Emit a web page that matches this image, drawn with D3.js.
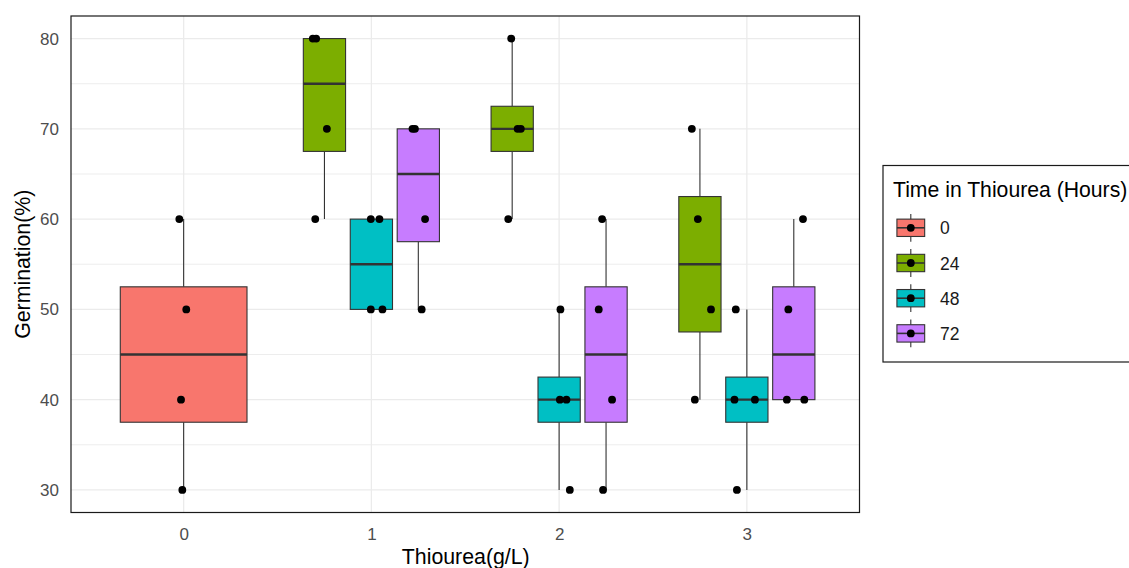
<!DOCTYPE html>
<html>
<head>
<meta charset="utf-8">
<script src="https://cdn.jsdelivr.net/npm/d3@7/dist/d3.min.js"></script>
<style>
  html, body { margin: 0; padding: 0; background: #ffffff; }
  svg { display: block; font-family: "Liberation Sans", Arial, sans-serif; }
</style>
</head>
<body>
<svg id="chart" width="1129" height="568"></svg>
<script>
// Thiourea concentration (g/L) categories
const thioureaLevels = ["0", "1", "2", "3"];
// Soaking time groups (hours)
const hourGroups = ["0", "24", "48", "72"];
const hourColors = ["#F8766D", "#7CAE00", "#00BFC4", "#C77CFF"];
const yTicks = [30, 40, 50, 60, 70, 80];

// Observations: thiourea level, soaking hours, germination %, horizontal jitter (category units)
const obsThiourea = ["0","0","0","0", "1","1","1","1", "1","1","1","1", "1","1","1","1",
                     "2","2","2","2", "2","2","2","2", "2","2","2","2",
                     "3","3","3","3", "3","3","3","3", "3","3","3","3"];
const obsHours    = ["0","0","0","0", "24","24","24","24", "48","48","48","48", "72","72","72","72",
                     "24","24","24","24", "48","48","48","48", "72","72","72","72",
                     "24","24","24","24", "48","48","48","48", "72","72","72","72"];
const obsGermination = [60,50,40,30, 80,80,70,60, 60,60,50,50, 70,70,60,50,
                        80,70,70,60, 50,40,40,30, 60,50,40,30,
                        70,60,50,40, 50,40,40,30, 60,50,40,40];
const obsJitter = [-0.023,0.014,-0.014,-0.007, -0.062,-0.044,0.013,-0.049, -0.003,0.043,-0.003,0.059,
                   -0.031,-0.018,0.036,0.018, -0.005,0.029,0.046,-0.021, 0.007,0.004,0.039,0.057,
                   -0.021,-0.039,0.032,-0.016, -0.043,-0.011,0.059,-0.027, -0.059,-0.066,0.043,-0.053,
                   0.049,-0.029,-0.037,0.056];

const svg = d3.select("#chart");
const panel = { left: 71, right: 859.5, top: 16, bottom: 512.5 };
const boxWidth = 0.75;   // total dodge width per category
const padding = 0.1;     // dodge2 padding between boxes

const x = d3.scaleLinear().domain([-0.6, thioureaLevels.length - 1 + 0.6]).range([panel.left, panel.right]);
const y = d3.scaleLinear().domain([27.5, 82.5]).range([panel.bottom, panel.top]);
const color = d3.scaleOrdinal().domain(hourGroups).range(hourColors);

const obs = obsGermination.map((v, i) => ({
  t: obsThiourea[i], h: obsHours[i], v: v, j: obsJitter[i]
}));

// Group into boxes, one per (thiourea, hours) pair present
const boxes = [];
thioureaLevels.forEach((t, ti) => {
  const groups = hourGroups.filter(h => obs.some(o => o.t === t && o.h === h));
  const n = groups.length;
  const slot = boxWidth / n;
  groups.forEach((h, gi) => {
    const vals = obs.filter(o => o.t === t && o.h === h).map(o => o.v).sort(d3.ascending);
    const q1 = d3.quantile(vals, 0.25), med = d3.quantile(vals, 0.5), q3 = d3.quantile(vals, 0.75);
    const iqr = q3 - q1;
    const lo = d3.min(vals.filter(v => v >= q1 - 1.5 * iqr));
    const hi = d3.max(vals.filter(v => v <= q3 + 1.5 * iqr));
    const center = ti - boxWidth / 2 + slot * (gi + 0.5);
    boxes.push({ t, h, q1, med, q3, lo, hi, center, half: slot * (1 - padding) / 2 });
  });
});

// Grid lines
const g = svg.append("g");
const minorTicks = d3.range(35, 80, 10);
g.selectAll("line.minor").data(minorTicks).enter().append("line")
  .attr("x1", panel.left).attr("x2", panel.right)
  .attr("y1", d => y(d)).attr("y2", d => y(d))
  .attr("stroke", "#EBEBEB").attr("stroke-width", 0.9);
g.selectAll("line.majory").data(yTicks).enter().append("line")
  .attr("x1", panel.left).attr("x2", panel.right)
  .attr("y1", d => y(d)).attr("y2", d => y(d))
  .attr("stroke", "#EBEBEB").attr("stroke-width", 1.3);
g.selectAll("line.majorx").data(thioureaLevels).enter().append("line")
  .attr("x1", (d, i) => x(i)).attr("x2", (d, i) => x(i))
  .attr("y1", panel.top).attr("y2", panel.bottom)
  .attr("stroke", "#EBEBEB").attr("stroke-width", 1.3);

// Boxplots
const bg = svg.append("g");
boxes.forEach(b => {
  const cx = x(b.center);
  bg.append("line").attr("x1", cx).attr("x2", cx).attr("y1", y(b.hi)).attr("y2", y(b.q3))
    .attr("stroke", "#333333").attr("stroke-width", 1.1);
  bg.append("line").attr("x1", cx).attr("x2", cx).attr("y1", y(b.q1)).attr("y2", y(b.lo))
    .attr("stroke", "#333333").attr("stroke-width", 1.1);
  bg.append("rect")
    .attr("x", x(b.center - b.half)).attr("width", x(b.center + b.half) - x(b.center - b.half))
    .attr("y", y(b.q3)).attr("height", y(b.q1) - y(b.q3))
    .attr("fill", color(b.h)).attr("stroke", "#333333").attr("stroke-width", 1.1);
  bg.append("line")
    .attr("x1", x(b.center - b.half)).attr("x2", x(b.center + b.half))
    .attr("y1", y(b.med)).attr("y2", y(b.med))
    .attr("stroke", "#333333").attr("stroke-width", 2.4);
});

// Jittered points, dodged like the boxes
const pg = svg.append("g");
obs.forEach(o => {
  const b = boxes.find(bb => bb.t === o.t && bb.h === o.h);
  pg.append("circle").attr("cx", x(b.center + o.j)).attr("cy", y(o.v)).attr("r", 3.9).attr("fill", "#000");
});

// Panel border
svg.append("rect").attr("x", panel.left).attr("y", panel.top)
  .attr("width", panel.right - panel.left).attr("height", panel.bottom - panel.top)
  .attr("fill", "none").attr("stroke", "#1a1a1a").attr("stroke-width", 1.2);

// Axes
const xAxis = d3.axisBottom(x).tickValues(d3.range(thioureaLevels.length))
  .tickFormat(i => thioureaLevels[i]).tickSize(0).tickPadding(15);
const xg = svg.append("g").attr("transform", `translate(0,${panel.bottom})`).call(xAxis);
const yAxis = d3.axisLeft(y).tickValues(yTicks).tickSize(0).tickPadding(12);
const yg = svg.append("g").attr("transform", `translate(${panel.left},0)`).call(yAxis);
[xg, yg].forEach(a => {
  a.select(".domain").remove();
  a.selectAll("text").attr("fill", "#4D4D4D").attr("font-size", "17px")
    .attr("font-family", "Liberation Sans, Arial, sans-serif");
});

svg.append("text").attr("x", (panel.left + panel.right) / 2 + 0.5).attr("y", 563.5)
  .attr("text-anchor", "middle").attr("font-size", "21.3px").attr("fill", "#000")
  .text("Thiourea(g/L)");
svg.append("text").attr("transform", `translate(30,${(panel.top + panel.bottom) / 2}) rotate(-90)`)
  .attr("text-anchor", "middle").attr("font-size", "21.3px").attr("fill", "#000")
  .text("Germination(%)");

// Legend
const lg = svg.append("g");
lg.append("rect").attr("x", 883).attr("y", 165.5).attr("width", 260).attr("height", 196.5)
  .attr("fill", "#fff").attr("stroke", "#1a1a1a").attr("stroke-width", 1.2);
lg.append("text").attr("x", 893).attr("y", 197).attr("font-size", "21.2px").attr("fill", "#000")
  .text("Time in Thiourea (Hours)");
const keySize = 34.7;
hourGroups.forEach((h, i) => {
  const cx = 910.8, cy = 227.8 + i * 35.2;
  const k = lg.append("g");
  k.append("line").attr("x1", cx).attr("x2", cx).attr("y1", cy - keySize * 0.4).attr("y2", cy + keySize * 0.4)
    .attr("stroke", "#333333").attr("stroke-width", 1.1);
  k.append("rect").attr("x", cx - keySize * 0.4).attr("y", cy - keySize * 0.25)
    .attr("width", keySize * 0.8).attr("height", keySize * 0.5)
    .attr("fill", color(h)).attr("stroke", "#333333").attr("stroke-width", 1.1);
  k.append("line").attr("x1", cx - keySize * 0.4).attr("x2", cx + keySize * 0.4).attr("y1", cy).attr("y2", cy)
    .attr("stroke", "#333333").attr("stroke-width", 1.6);
  k.append("circle").attr("cx", cx).attr("cy", cy).attr("r", 3.9).attr("fill", "#000");
  k.append("text").attr("x", 940).attr("y", cy + 6.5).attr("font-size", "17.5px").attr("fill", "#1a1a1a")
    .text(h);
});
</script>
</body>
</html>
